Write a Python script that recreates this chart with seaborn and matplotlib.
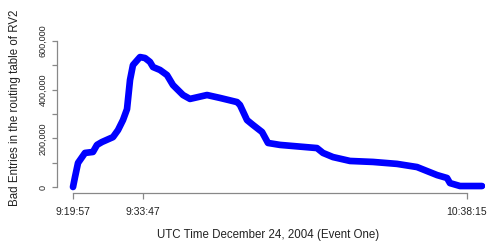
import matplotlib
matplotlib.use("Agg")
import matplotlib.pyplot as plt
import seaborn as sns
import pandas as pd

# elapsed seconds since 9:19:57 UTC
elapsed_s = [0, 24, 60, 143, 238, 286, 346, 477, 537, 596, 644, 680, 715, 799,
             859, 918, 954, 1037, 1121, 1192, 1312, 1395, 1598, 1753, 1956, 1991,
             2075, 2146, 2254, 2325, 2468, 2909, 2981, 3100, 3303, 3577, 3863,
             4102, 4341, 4460, 4495, 4615, 4877]
bad_entries = [0, 41000, 99000, 140000, 144000, 173000, 185000, 205000, 234000,
               275000, 320000, 440000, 501000, 534000, 530000, 514000, 493000,
               481000, 460000, 419000, 378000, 362000, 378000, 366000, 349000,
               337000, 275000, 255000, 226000, 181000, 173000, 160000, 140000,
               123000, 107000, 103000, 95000, 82000, 49000, 37000, 16000, 4000, 4000]

x_tick_pos = [0, 830, 4698]
x_tick_labels = ["9:19:57", "9:33:47", "10:38:15"]
y_ticks = [0, 100000, 200000, 300000, 400000, 500000, 600000]
y_tick_labels = ["0", "", "200,000", "", "400,000", "", "600,000"]

df = pd.DataFrame({"t": elapsed_s, "v": bad_entries})

sns.set_theme(style="white")
plt.rcParams["font.family"] = ["Liberation Sans", "DejaVu Sans"]

fig = plt.figure(figsize=(4.87, 2.47), dpi=100)
W, H = 487, 247
L, R, T, B = 57, 485, 35, 193
ax = fig.add_axes([L / W, (H - B) / H, (R - L) / W, (B - T) / H])

sns.lineplot(data=df, x="t", y="v", ax=ax, color="#0000ff", linewidth=4.8,
             solid_joinstyle="round", solid_capstyle="round")

xs = 394 / 4698.0
ax.set_xlim((L - 73) / xs, (R - 73) / xs)
ys = 146 / 600000.0
ax.set_ylim(-(B - 187) / ys, (187 - T) / ys)

for s in ["top", "right"]:
    ax.spines[s].set_visible(False)
for s in ["left", "bottom"]:
    ax.spines[s].set_color("#888888")
    ax.spines[s].set_linewidth(0.9)
ax.spines["left"].set_bounds(0, 600000)
ax.spines["bottom"].set_bounds(0, 4698)

ax.set_xticks(x_tick_pos)
ax.set_xticklabels(x_tick_labels)
ax.set_yticks(y_ticks)
ax.set_yticklabels(y_tick_labels, rotation=90, va="center")
ax.tick_params(axis="x", length=4.3, width=0.9, color="#888888", pad=5.5,
               labelsize=7.5, labelcolor="#222222", bottom=True)
ax.tick_params(axis="y", length=3.3, width=0.9, color="#888888", pad=3.5,
               labelsize=6.5, labelcolor="#222222", left=True)

ax.set_xlabel("UTC Time December 24, 2004 (Event One)", fontsize=8.3, color="#222222")
ax.set_ylabel("Bad Entries in the routing table of RV2", fontsize=8.3, color="#222222")
ax.xaxis.label.set_va("center")
ax.yaxis.label.set_va("center")
ax.xaxis.set_label_coords((268.5 - L) / (R - L), (B - 235) / (B - T))
ax.yaxis.set_label_coords((15 - L) / (R - L), (B - 107.5) / (B - T))
ax.grid(False)

fig.savefig("out.png", dpi=100)
